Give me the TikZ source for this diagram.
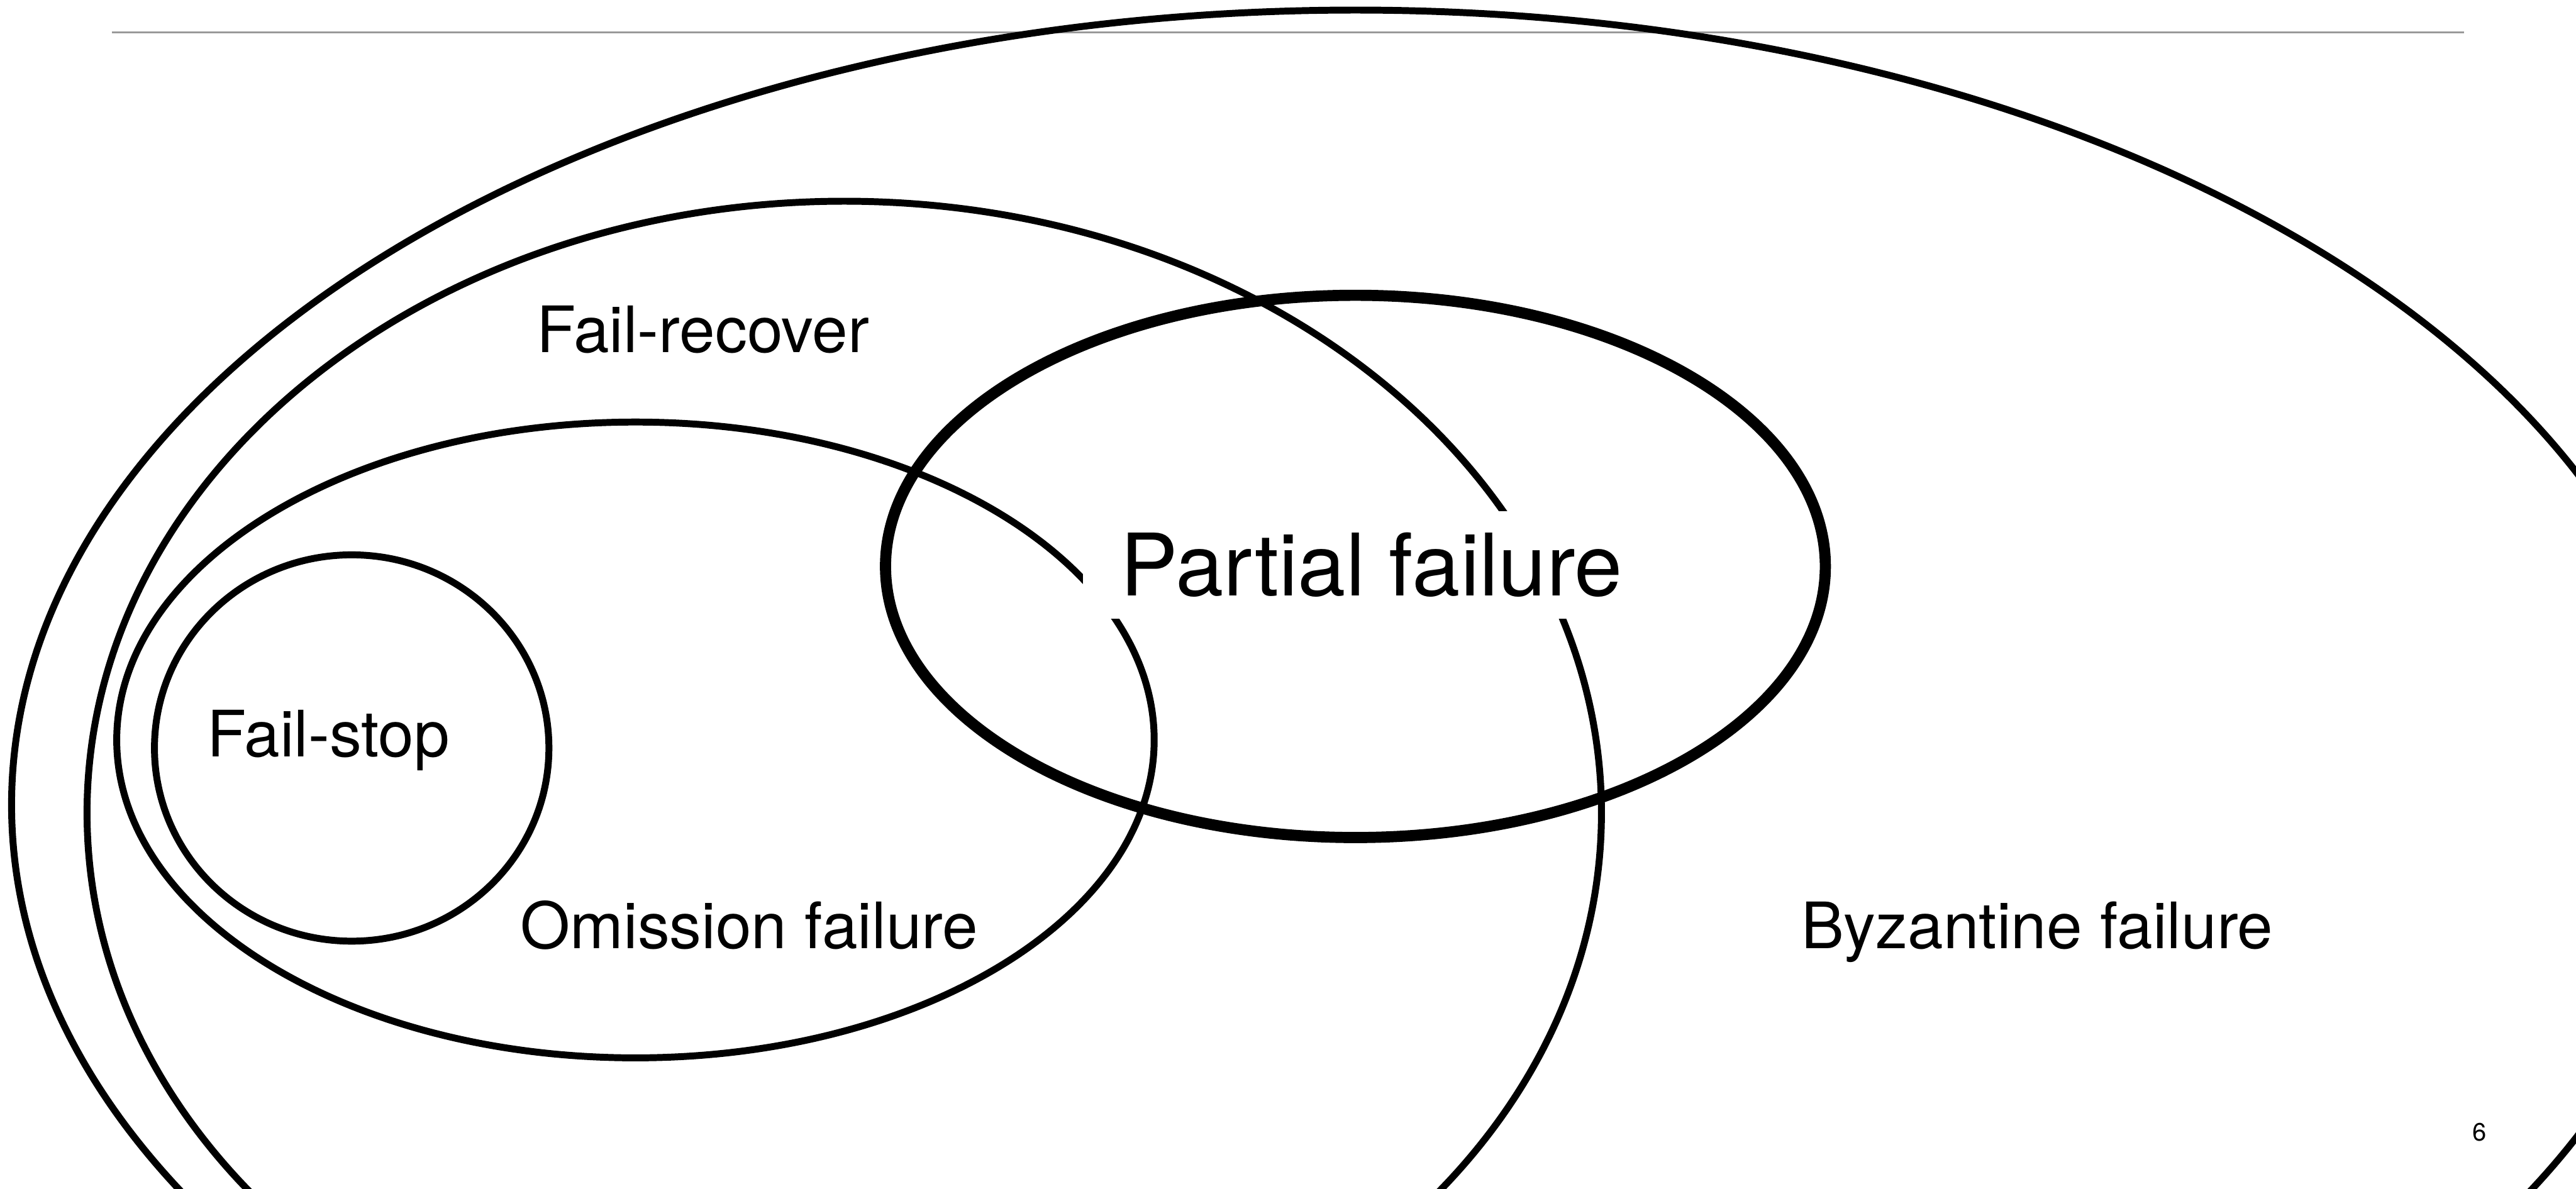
\documentclass[tikz,border=0pt]{standalone}
\usepackage{fontspec}
\setmainfont{TeX Gyre Heros}
\newcommand{\setnamefont}{\fontsize{36.2}{40}\selectfont}
\newcommand{\partialfont}{\fontsize{48.8}{52}\selectfont}
\begin{document}
\begin{tikzpicture}[x=1cm, y=-1cm,
    ring/.style={line width=3.9pt},
    thickring/.style={line width=6.3pt},
    setname/.style={anchor=base, inner sep=0pt, font=\setnamefont}]
    %\draw[help lines] (0, 0) grid (51.2, 23.63);
    \useasboundingbox (0, 0) rectangle (51.2, 23.63);
    \clip (0, 0) rectangle (51.2, 23.63);

    % Rule
    \draw[black!40, line width=1pt] (2.22, 0.64) -- (48.98, 0.64);

    % Sets
    \draw[ring] (26.94, 16.00) ellipse [x radius=26.71, y radius=15.80];
    \draw[ring] (16.78, 16.16) ellipse [x radius=15.05, y radius=12.16];
    \draw[ring] (12.63, 14.71) ellipse [x radius=10.31, y radius=6.32];
    \draw[ring] (6.99, 14.87) ellipse [x radius=3.92, y radius=3.84];
    \draw[thickring] (26.94, 11.26) ellipse [x radius=9.34, y radius=5.39];

    % Names
    \node[setname] (recover) at (13.97, 7.00) {Fail-recover};
    \node[setname] (stop) at (6.53, 15.04) {Fail-stop};
    \node[setname] (omission) at (14.89, 18.85) {Omission failure};
    \node[setname] (byzantine) at (40.49, 18.85) {Byzantine failure};
    \node[fill=white, inner sep=0pt, minimum width=11.48cm, minimum height=2.14cm,
      font=\partialfont] (partial) at (27.26, 11.23) {Partial failure};

    % Page
    \node[anchor=base, font=\fontsize{14.2}{16}\selectfont] (page) at (49.28, 22.68) {6};
\end{tikzpicture}
\end{document}
